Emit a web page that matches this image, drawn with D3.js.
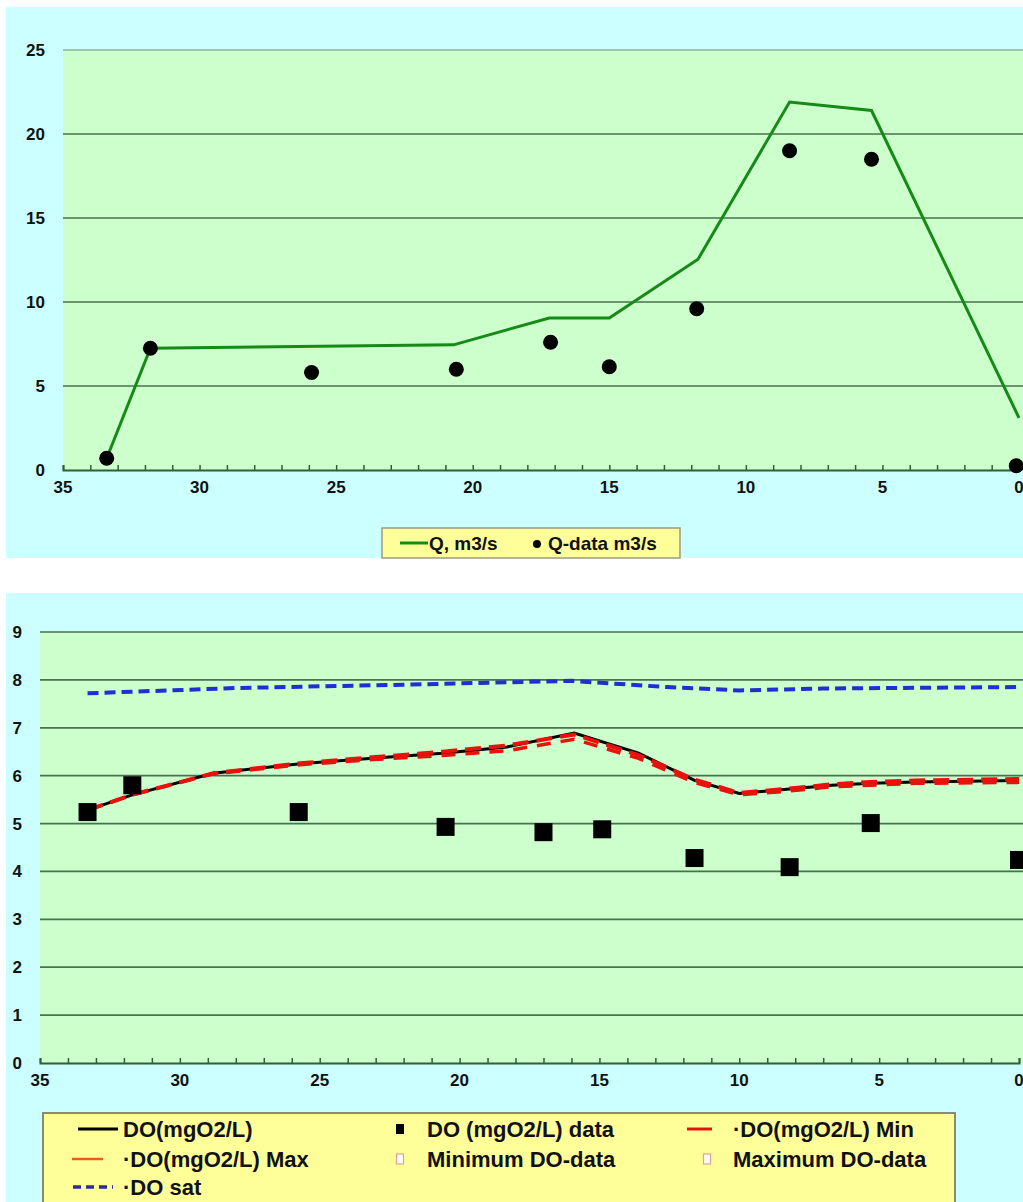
<!DOCTYPE html>
<html lang="en">
<head>
    <meta charset="UTF-8">
    <title>Q and DO profile</title>
    <script src="https://cdn.jsdelivr.net/npm/d3@7"></script>
    <style>
        body { margin: 0; background: #fff; }
        text { font-family: "Liberation Sans Narrow", "Liberation Sans", Arial, sans-serif; font-weight: bold; fill: #111; }
    </style>
</head>
<body>
    <svg id="svg" width="1023" height="1202"></svg>
    <script>
        // ---- data (distance in km) ----
        const qKm = [33.4, 31.8, 20.7, 17.2, 15.0, 11.75, 8.4, 5.4, 0];
        const qModel = [0.7, 7.25, 7.45, 9.05, 9.05, 12.55, 21.9, 21.4, 3.1];
        const qDataKm = [33.4, 31.8, 25.9, 20.6, 17.15, 15.0, 11.8, 8.4, 5.4, 0.1];
        const qData = [0.7, 7.25, 5.8, 6.0, 7.6, 6.15, 9.6, 19.0, 18.5, 0.25];

        const doKm = [33.3, 31.7, 28.8, 25.7, 22.75, 20.6, 18.3, 15.9, 13.6, 11.6, 10, 8.2, 6.7, 5.3, 3.7, 0];
        const doModel = [5.28, 5.6, 6.05, 6.25, 6.38, 6.47, 6.6, 6.89, 6.47, 5.9, 5.63, 5.72, 5.8, 5.84, 5.87, 5.9];
        const doMin = [5.28, 5.6, 6.04, 6.23, 6.35, 6.42, 6.52, 6.76, 6.36, 5.86, 5.6, 5.68, 5.77, 5.8, 5.84, 5.86];
        const doMax = [5.28, 5.6, 6.05, 6.26, 6.4, 6.5, 6.63, 6.86, 6.43, 5.92, 5.64, 5.73, 5.82, 5.87, 5.9, 5.93];
        const satKm = [33.3, 28, 22, 16, 12.6, 10, 7, 0];
        const doSat = [7.72, 7.83, 7.9, 7.98, 7.85, 7.78, 7.82, 7.85];
        const doDataKm = [33.3, 31.7, 25.75, 20.5, 17.0, 14.9, 11.6, 8.2, 5.3, 0];
        const doData = [5.24, 5.8, 5.24, 4.93, 4.82, 4.88, 4.28, 4.09, 5.01, 4.24];

        const xTicks = [35, 30, 25, 20, 15, 10, 5, 0];
        const qTicks = [0, 5, 10, 15, 20, 25];
        const doTicks = [0, 1, 2, 3, 4, 5, 6, 7, 8, 9];

        const svg = d3.select("#svg");
        const zip = (xs, ys) => xs.map((x, i) => [x, ys[i]]);

        function panel(o) {
            const g = svg.append("g");
            g.append("rect").attr("x", 6).attr("y", o.top).attr("width", 1017).attr("height", o.bottom - o.top)
                .attr("fill", "#ccffff");
            const x = d3.scaleLinear().domain([35, 0]).range([o.left, 1019]);
            const y = d3.scaleLinear().domain([0, o.max]).range([o.y0, o.y1]);
            g.append("rect").attr("x", o.left).attr("y", o.y1).attr("width", 1023 - o.left).attr("height", o.y0 - o.y1)
                .attr("fill", "#ccffcc");
            // gridlines
            g.append("g").selectAll("line").data(o.yTicks.filter(d => d > 0)).join("line")
                .attr("x1", o.left).attr("x2", 1023)
                .attr("y1", d => y(d)).attr("y2", d => y(d))
                .attr("stroke", d => d === o.max && o.lightTop ? "#8fb3a3" : "#4a704e").attr("stroke-width", 1.7);
            // y labels
            g.append("g").selectAll("text").data(o.yTicks).join("text")
                .attr("x", o.left - 18).attr("y", d => y(d)).attr("dy", "0.35em")
                .attr("text-anchor", "end").style("font-size", "17px").text(d => d);
            // x axis with minor ticks
            const ax = g.append("g").attr("transform", `translate(0,${o.y0})`)
                .call(d3.axisBottom(x).tickValues(d3.range(35, -1, -1)).tickSize(-5).tickFormat(""));
            ax.select(".domain").attr("stroke", "#2f5f34").attr("stroke-width", 2);
            ax.selectAll(".tick line").attr("stroke", "#2f5f34").attr("stroke-width", 1.5);
            g.append("g").selectAll("text").data(xTicks).join("text")
                .attr("x", d => x(d)).attr("y", o.y0 + 23).attr("text-anchor", "middle")
                .style("font-size", "17px").text(d => d);
            return { g, x, y };
        }

        // ---- top chart: flow ----
        const qChart = panel({ top: 7, bottom: 558, left: 63, y0: 470, y1: 50, max: 25, yTicks: qTicks, lightTop: true });
        const qLine = d3.line().x(d => qChart.x(d[0])).y(d => qChart.y(d[1]));
        qChart.g.append("path").attr("d", qLine(zip(qKm, qModel)))
            .attr("fill", "none").attr("stroke", "#168a16").attr("stroke-width", 3);
        qChart.g.append("g").selectAll("circle").data(zip(qDataKm, qData)).join("circle")
            .attr("cx", d => qChart.x(d[0])).attr("cy", d => qChart.y(d[1])).attr("r", 7.5).attr("fill", "#000");

        // legend top
        const lt = svg.append("g");
        lt.append("rect").attr("x", 382).attr("y", 528).attr("width", 298).attr("height", 30)
            .attr("fill", "#ffff99").attr("stroke", "#9a9a80").attr("stroke-width", 1.5);
        lt.append("line").attr("x1", 400).attr("x2", 428).attr("y1", 543).attr("y2", 543)
            .attr("stroke", "#168a16").attr("stroke-width", 3);
        lt.append("text").attr("x", 429).attr("y", 543).attr("dy", "0.35em").style("font-size", "19px").text("Q, m3/s");
        lt.append("circle").attr("cx", 537).attr("cy", 544).attr("r", 4).attr("fill", "#000");
        lt.append("text").attr("x", 548).attr("y", 543).attr("dy", "0.35em").style("font-size", "19px").text("Q-data m3/s");

        // ---- bottom chart: dissolved oxygen ----
        const doChart = panel({ top: 593, bottom: 1202, left: 40, y0: 1063, y1: 632, max: 9, yTicks: doTicks, lightTop: false });
        const doLine = d3.line().x(d => doChart.x(d[0])).y(d => doChart.y(d[1]));
        doChart.g.append("path").attr("d", doLine(zip(doKm, doModel)))
            .attr("fill", "none").attr("stroke", "#000").attr("stroke-width", 3);
        doChart.g.append("path").attr("d", doLine(zip(doKm, doMax)))
            .attr("fill", "none").attr("stroke", "#e8120c").attr("stroke-width", 4).attr("stroke-dasharray", "16,8");
        doChart.g.append("path").attr("d", doLine(zip(doKm, doMin)))
            .attr("fill", "none").attr("stroke", "#e8120c").attr("stroke-width", 3.5).attr("stroke-dasharray", "14,10");
        doChart.g.append("path").attr("d", doLine(zip(satKm, doSat)))
            .attr("fill", "none").attr("stroke", "#1f2fd0").attr("stroke-width", 4).attr("stroke-dasharray", "11,6");
        doChart.g.append("g").selectAll("rect").data(zip(doDataKm, doData)).join("rect")
            .attr("x", d => doChart.x(d[0]) - 9).attr("y", d => doChart.y(d[1]) - 9)
            .attr("width", 18).attr("height", 18).attr("fill", "#000");

        // legend bottom
        const lb = svg.append("g");
        lb.append("rect").attr("x", 43).attr("y", 1113).attr("width", 912).attr("height", 100)
            .attr("fill", "#ffff99").attr("stroke", "#8a8a70").attr("stroke-width", 2);
        const rows = [1129, 1159, 1187];
        const leg = [
            { x: 123, y: rows[0], label: "DO(mgO2/L)", kind: "line", x1: 78, x2: 118, color: "#000", w: 3 },
            { x: 427, y: rows[0], label: "DO (mgO2/L) data", kind: "square", cx: 400 },
            { x: 733, y: rows[0], label: "·DO(mgO2/L) Min", kind: "line", x1: 687, x2: 712, color: "#e8120c", w: 3 },
            { x: 123, y: rows[1], label: "·DO(mgO2/L) Max", kind: "line", x1: 72, x2: 103, color: "#ef5a1a", w: 2.5 },
            { x: 427, y: rows[1], label: "Minimum DO-data", kind: "hollow", cx: 400 },
            { x: 733, y: rows[1], label: "Maximum DO-data", kind: "hollow", cx: 707 },
            { x: 123, y: rows[2], label: "·DO sat", kind: "dash", x1: 73, x2: 113, color: "#2a2ab0", w: 3.5 }
        ];
        leg.forEach(d => {
            if (d.kind === "line" || d.kind === "dash") {
                lb.append("line").attr("x1", d.x1).attr("x2", d.x2).attr("y1", d.y).attr("y2", d.y)
                    .attr("stroke", d.color).attr("stroke-width", d.w)
                    .attr("stroke-dasharray", d.kind === "dash" ? "8,5" : null);
            } else if (d.kind === "square") {
                lb.append("rect").attr("x", d.cx - 4).attr("y", d.y - 5).attr("width", 8).attr("height", 10).attr("fill", "#000");
            } else {
                lb.append("rect").attr("x", d.cx - 3.5).attr("y", d.y - 5).attr("width", 7).attr("height", 10)
                    .attr("fill", "#fff").attr("stroke", "#e6a090").attr("stroke-width", 1.2);
            }
            lb.append("text").attr("x", d.x).attr("y", d.y).attr("dy", "0.35em").style("font-size", "22px").text(d.label);
        });
    </script>
</body>
</html>
